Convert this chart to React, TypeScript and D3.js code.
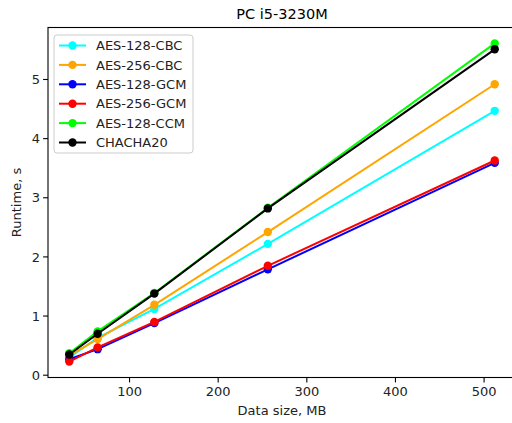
import React from "react";
import * as d3 from "d3";

const sizes = [32, 64, 128, 256, 512];
const seriesNames = ["AES-128-CBC", "AES-256-CBC", "AES-128-GCM", "AES-256-GCM", "AES-128-CCM", "CHACHA20"];
const seriesColors = ["#00ffff", "#ffa500", "#0000ff", "#ff0000", "#00ff00", "#000000"];
const aes128cbc = [0.30, 0.63, 1.12, 2.22, 4.47];
const aes256cbc = [0.33, 0.61, 1.19, 2.42, 4.92];
const aes128gcm = [0.27, 0.44, 0.88, 1.79, 3.59];
const aes256gcm = [0.23, 0.47, 0.90, 1.85, 3.63];
const aes128ccm = [0.37, 0.74, 1.39, 2.83, 5.61];
const chacha20 = [0.35, 0.70, 1.38, 2.82, 5.51];
const xTicks = [100, 200, 300, 400, 500];
const yTicks = [0, 1, 2, 3, 4, 5];

const allSeries = [aes128cbc, aes256cbc, aes128gcm, aes256gcm, aes128ccm, chacha20];

export default function App() {
  const W = 512, H = 423;
  const left = 48, right = 516, top = 27.5, bottom = 377.5;
  const allVals = allSeries.flat();
  const ymin = d3.min(allVals)!, ymax = d3.max(allVals)!;
  const ypad = (ymax - ymin) * 0.05;
  const x = d3.scaleLinear().domain([32 - 24, 512 + 24]).range([left, right]);
  const y = d3.scaleLinear().domain([ymin - ypad, ymax + ypad]).range([bottom, top]);
  const line = d3.line<number>().x((_, i) => x(sizes[i])).y((d) => y(d));
  const font = "DejaVu Sans, sans-serif";
  const legX = 54, legY = 35, rowH = 19.4;
  return (
    <svg width={W} height={H} style={{ position: "absolute", left: 0, top: 0, overflow: "hidden" }} fontFamily={font}>
      <rect x={0} y={0} width={W} height={H} fill="#fff" />
      <text x={(left + right) / 2} y={19} textAnchor="middle" fontSize={14.5} fill="#000">PC i5-3230M</text>
      {allSeries.map((s, k) => (
        <g key={k}>
          <path d={line(s)!} fill="none" stroke={seriesColors[k]} strokeWidth={2} />
          {s.map((v, i) => (
            <circle key={i} cx={x(sizes[i])} cy={y(v)} r={4.2} fill={seriesColors[k]} />
          ))}
        </g>
      ))}
      <rect x={left} y={top} width={right - left} height={bottom - top} fill="none" stroke="#000" strokeWidth={1.1} />
      {xTicks.map((t) => (
        <g key={t}>
          <line x1={x(t)} x2={x(t)} y1={bottom} y2={bottom + 4.9} stroke="#000" strokeWidth={1.1} />
          <text x={x(t)} y={bottom + 18} textAnchor="middle" fontSize={13} fill="#222">{t}</text>
        </g>
      ))}
      {yTicks.map((t) => (
        <g key={t}>
          <line x1={left - 4.9} x2={left} y1={y(t)} y2={y(t)} stroke="#000" strokeWidth={1.1} />
          <text x={left - 8} y={y(t) + 4.7} textAnchor="end" fontSize={13} fill="#222">{t}</text>
        </g>
      ))}
      <text x={(left + right) / 2} y={415} textAnchor="middle" fontSize={13} fill="#222">Data size, MB</text>
      <text transform={`translate(21,${(top + bottom) / 2}) rotate(-90)`} textAnchor="middle" fontSize={13} fill="#222">Runtime, s</text>
      <rect x={legX} y={legY} width={139} height={118} rx={3} fill="#fff" fillOpacity={0.8} stroke="#ccc" strokeWidth={1} />
      {seriesNames.map((n, k) => {
        const cy = legY + 10.5 + k * rowH;
        return (
          <g key={n}>
            <line x1={legX + 5} x2={legX + 32} y1={cy} y2={cy} stroke={seriesColors[k]} strokeWidth={2} />
            <circle cx={legX + 18.5} cy={cy} r={4.2} fill={seriesColors[k]} />
            <text x={legX + 42} y={cy + 4.7} fontSize={13} fill="#222">{n}</text>
          </g>
        );
      })}
    </svg>
  );
}
